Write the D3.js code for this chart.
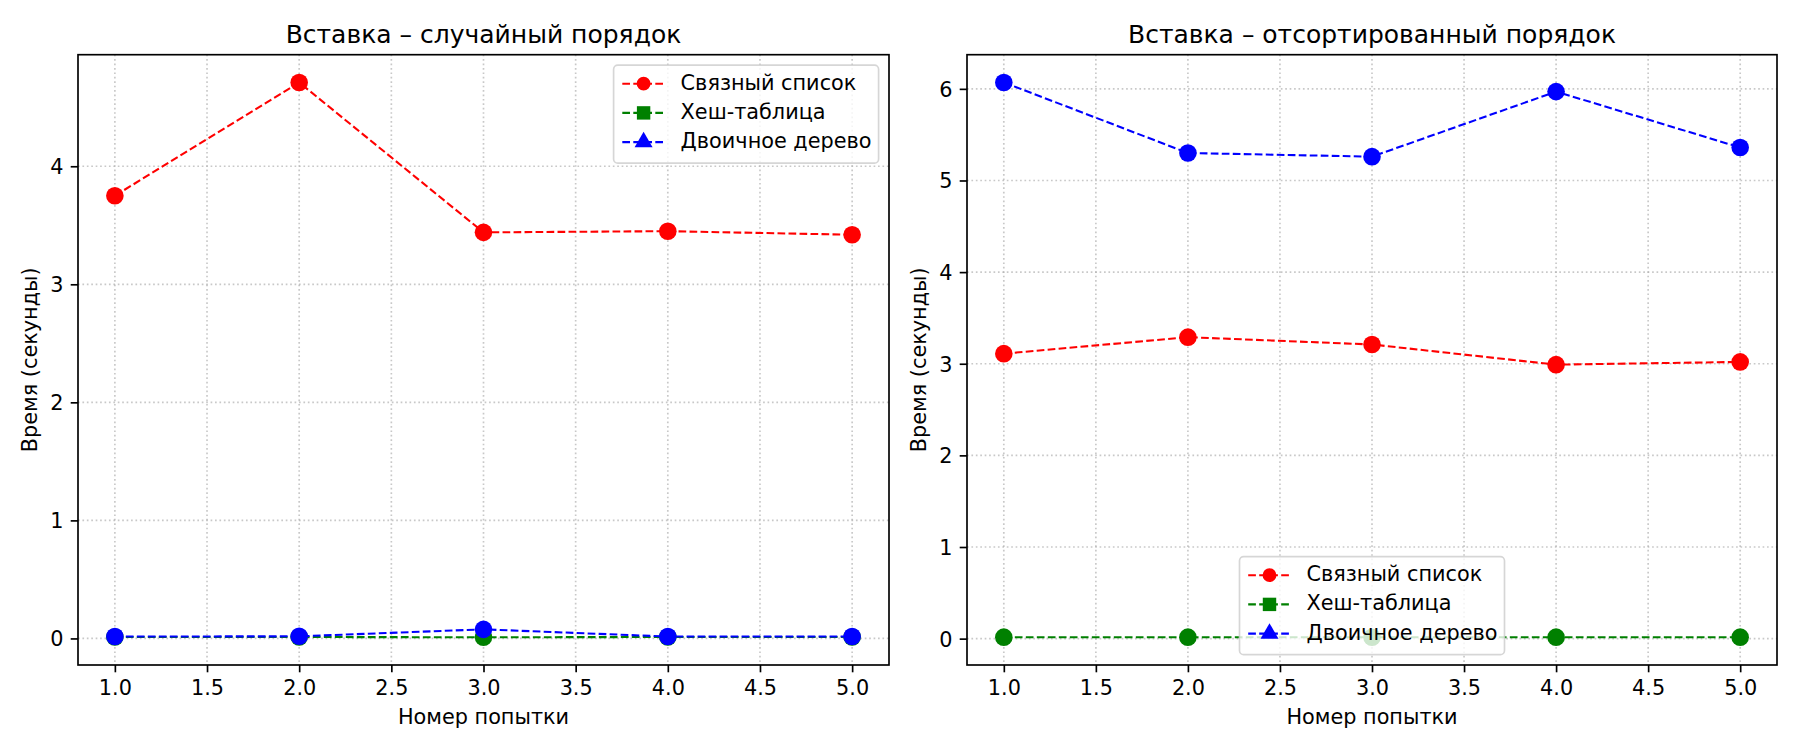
<!DOCTYPE html>
<html>
<head>
<meta charset="utf-8">
<script src="https://cdn.jsdelivr.net/npm/d3@7"></script>
<style>
  body { margin: 0; background: #fff; }
  svg { display: block; font-family: "DejaVu Sans", sans-serif; }
</style>
</head>
<body>
<svg id="chart" width="1800" height="750"></svg>
<script>
// Data
var attempts = [1, 2, 3, 4, 5];
var xTicks = [1, 1.5, 2, 2.5, 3, 3.5, 4, 4.5, 5];

// random insertion order
var randLinked = [3.75, 4.71, 3.44, 3.45, 3.42];
var randHash = [0.012, 0.012, 0.010, 0.012, 0.012];
var randTree = [0.016, 0.018, 0.077, 0.016, 0.016];
var randYTicks = [0, 1, 2, 3, 4];

// sorted insertion order
var sortLinked = [3.11, 3.29, 3.21, 2.99, 3.02];
var sortHash = [0.016, 0.016, 0.015, 0.016, 0.016];
var sortTree = [6.07, 5.30, 5.26, 5.97, 5.36];
var sortYTicks = [0, 1, 2, 3, 4, 5, 6];

var seriesNames = ["Связный список", "Хеш-таблица", "Двоичное дерево"];
var seriesColors = ["#ff0000", "#008000", "#0000ff"];
var seriesSymbols = [d3.symbolCircle, d3.symbolSquare, d3.symbolTriangle];

var svg = d3.select("#chart");

// matplotlib-like sizes at 150 dpi
var fontSize = 20.8;
var tickLen = 7.3;
var spineW = 1.67;

function drawPanel(opts) {
  var left = opts.left, right = opts.right, top = 54.7, bottom = 665;
  var g = svg.append("g");

  var allY = d3.merge(opts.series);
  var yMin = d3.min(allY), yMax = d3.max(allY);
  var yPad = (yMax - yMin) * 0.05;

  var x = d3.scaleLinear()
    .domain([0.8, 5.2])
    .range([left, right]);

  var y = d3.scaleLinear()
    .domain([yMin - yPad, yMax + yPad])
    .range([bottom, top]);

  // grid
  g.append("g").selectAll("line")
    .data(xTicks)
    .join("line")
    .attr("x1", d => x(d)).attr("x2", d => x(d))
    .attr("y1", top).attr("y2", bottom)
    .attr("stroke", "#b0b0b0").attr("stroke-opacity", 0.7)
    .attr("stroke-width", 1.67).attr("stroke-dasharray", "1.67,2.75");

  g.append("g").selectAll("line")
    .data(opts.yTicks)
    .join("line")
    .attr("x1", left).attr("x2", right)
    .attr("y1", d => y(d)).attr("y2", d => y(d))
    .attr("stroke", "#b0b0b0").attr("stroke-opacity", 0.7)
    .attr("stroke-width", 1.67).attr("stroke-dasharray", "1.67,2.75");

  // series: line then markers, in order
  var drawLine = d3.line()
    .x((d, i) => x(attempts[i]))
    .y(d => y(d));

  opts.series.forEach(function(vals, k) {
    g.append("path")
      .attr("d", drawLine(vals))
      .attr("fill", "none")
      .attr("stroke", seriesColors[k])
      .attr("stroke-width", 2.08)
      .attr("stroke-dasharray", "7.7,3.3");

    g.append("g").selectAll("circle")
      .data(vals)
      .join("circle")
      .attr("cx", (d, i) => x(attempts[i]))
      .attr("cy", d => y(d))
      .attr("r", 8.8)
      .attr("fill", seriesColors[k]);
  });

  // axes
  var bottomAxis = d3.axisBottom(x)
    .tickValues(xTicks)
    .tickFormat(d3.format(".1f"))
    .tickSize(tickLen)
    .tickPadding(7.3);

  var leftAxis = d3.axisLeft(y)
    .tickValues(opts.yTicks)
    .tickFormat(d3.format("d"))
    .tickSize(tickLen)
    .tickPadding(7.3);

  var xg = g.append("g")
    .attr("transform", "translate(0," + bottom + ")")
    .call(bottomAxis);
  var yg = g.append("g")
    .attr("transform", "translate(" + left + ",0)")
    .call(leftAxis);

  [xg, yg].forEach(function(ax) {
    ax.select(".domain").remove();
    ax.selectAll(".tick line").attr("stroke", "#000").attr("stroke-width", spineW);
    ax.selectAll(".tick text")
      .attr("fill", "#000")
      .style("font-size", fontSize + "px")
      .style("font-family", "DejaVu Sans");
  });
  xg.selectAll(".tick text").attr("dy", "0.72em");
  yg.selectAll(".tick text").attr("dy", "0.36em");

  // spines
  g.append("rect")
    .attr("x", left).attr("y", top)
    .attr("width", right - left).attr("height", bottom - top)
    .attr("fill", "none")
    .attr("stroke", "#000")
    .attr("stroke-width", spineW);

  // title and labels
  var cx = (left + right) / 2;
  g.append("text")
    .attr("x", cx).attr("y", 42.7)
    .attr("text-anchor", "middle")
    .style("font-size", "25px")
    .text(opts.title);

  g.append("text")
    .attr("x", cx).attr("y", 724)
    .attr("text-anchor", "middle")
    .style("font-size", fontSize + "px")
    .text("Номер попытки");

  g.append("text")
    .attr("transform", "translate(" + (left - 40.7) + "," + ((top + bottom) / 2) + ") rotate(-90)")
    .attr("text-anchor", "middle")
    .style("font-size", fontSize + "px")
    .text("Время (секунды)");

  // legend
  var lw = 265, lh = 98;
  var lx, ly;
  if (opts.legend === "upper right") {
    lx = right - 10.4 - lw;
    ly = top + 10.4;
  } else {
    lx = cx - lw / 2;
    ly = bottom - 10.4 - lh;
  }
  var leg = g.append("g").attr("transform", "translate(" + lx + "," + ly + ")");
  leg.append("rect")
    .attr("width", lw).attr("height", lh)
    .attr("rx", 4.2).attr("ry", 4.2)
    .attr("fill", "#fff").attr("fill-opacity", 0.8)
    .attr("stroke", "#cccccc").attr("stroke-opacity", 0.8)
    .attr("stroke-width", 1.67);

  var rows = leg.selectAll("g.row")
    .data(seriesNames)
    .join("g")
    .attr("class", "row")
    .attr("transform", (d, i) => "translate(0," + (18.6 + i * 29.2) + ")");

  rows.append("line")
    .attr("x1", 8.7).attr("x2", 49.7)
    .attr("stroke", (d, i) => seriesColors[i])
    .attr("stroke-width", 2.08)
    .attr("stroke-dasharray", "7.7,3.3");

  rows.append("path")
    .attr("transform", "translate(30,0)")
    .attr("d", (d, i) => d3.symbol().type(seriesSymbols[i]).size(i === 0 ? 150 : (i === 1 ? 180 : 140))())
    .attr("fill", (d, i) => seriesColors[i]);

  rows.append("text")
    .attr("x", 67)
    .attr("y", 6)
    .style("font-size", fontSize + "px")
    .text(d => d);
}

drawPanel({
  left: 78, right: 889,
  title: "Вставка – случайный порядок",
  series: [randLinked, randHash, randTree],
  yTicks: randYTicks,
  legend: "upper right"
});

drawPanel({
  left: 967, right: 1777,
  title: "Вставка – отсортированный порядок",
  series: [sortLinked, sortHash, sortTree],
  yTicks: sortYTicks,
  legend: "lower center"
});
</script>
</body>
</html>
